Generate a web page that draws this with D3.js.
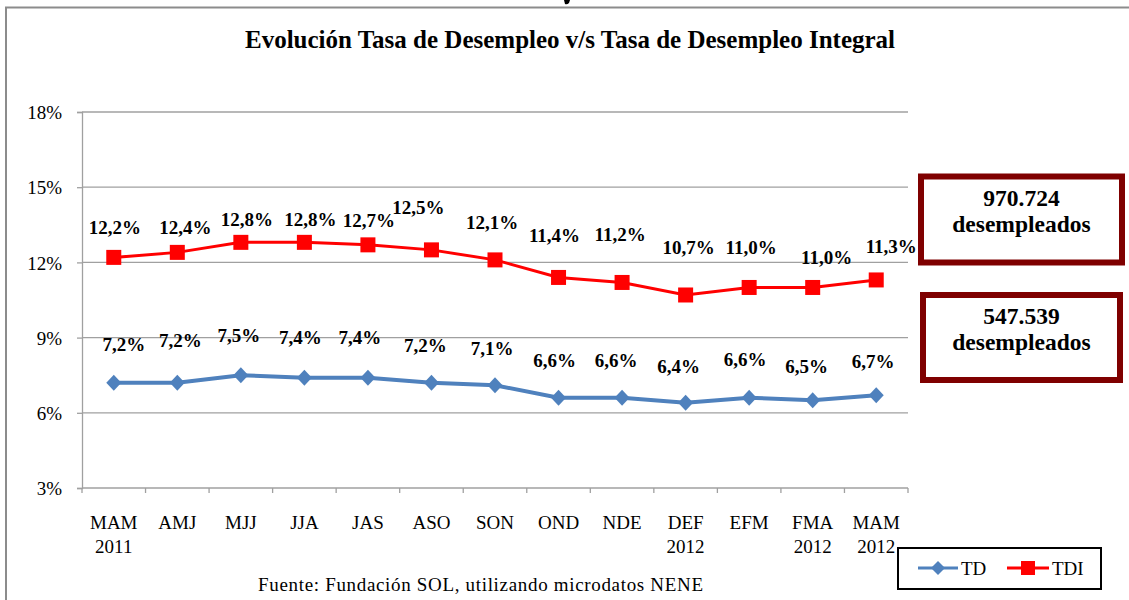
<!DOCTYPE html>
<html>
<head>
<meta charset="utf-8">
<script src="https://cdn.jsdelivr.net/npm/d3@7"></script>
<style>
  html, body { margin: 0; padding: 0; background: #fff; }
  svg text { font-family: 'Liberation Serif', 'Times New Roman', serif; fill: #000; }
</style>
</head>
<body>
<div id="chart"></div>
<script>
// periods (trimestres móviles) and their second line
const periods = ['MAM', 'AMJ', 'MJJ', 'JJA', 'JAS', 'ASO', 'SON', 'OND', 'NDE', 'DEF', 'EFM', 'FMA', 'MAM ']
const periodYears = ['2011', '', '', '', '', '', '', '', '', '2012', '', '2012', '2012']

// tasa de desempleo (TD) and tasa de desempleo integral (TDI), %
const td = [7.2, 7.2, 7.5, 7.4, 7.4, 7.2, 7.1, 6.6, 6.6, 6.4, 6.6, 6.5, 6.7]
const tdi = [12.2, 12.4, 12.8, 12.8, 12.7, 12.5, 12.1, 11.4, 11.2, 10.7, 11.0, 11.0, 11.3]

const yTicks = [3, 6, 9, 12, 15, 18]

// totals shown in the boxes on the right
const totals = [{ value: '970.724', text: 'desempleados' }, { value: '547.539', text: 'desempleados' }]

// label placement nudges (Excel put them by hand)
const tdiLabelDx = [1, 8, 6, 6, 1, -13, -3, -4, -2, 3, 2, 14, 15]
const tdiLabelDy = [-30, -25, -23, -23, -25, -43, -38, -42, -48, -48, -40, -30, -34]
const tdLabelDx = [10, 3, -2, -4, -8, -6, -3, -4, -6, -7, -4, -6, -3]
const tdLabelDy = [-38, -42, -40, -40, -40, -37, -37, -37, -37, -36, -38, -34, -34]

const W = 1129, H = 600
const svg = d3.select('#chart').append('svg').attr('width', W).attr('height', H)
  .style('display', 'block')

// outer frame (only top and left edges visible)
svg.append('path').attr('d', 'M6,600 V7.5 H1129')
  .attr('fill', 'none').attr('stroke', '#8c8c8c').attr('stroke-width', 2)

// bit of a glyph from the text cut off above the frame
svg.append('path').attr('d', 'M564,0 h6 l-1,3 q-2,2 -4,1 z').attr('fill', '#000')

svg.append('text').attr('x', 570).attr('y', 48).attr('text-anchor', 'middle')
  .style('font-size', '25px').style('font-weight', 'bold')
  .text('Evolución Tasa de Desempleo v/s Tasa de Desempleo Integral')

const x = d3.scaleBand().domain(periods).range([82, 908])
const y = d3.scaleLinear().domain([3, 18]).range([488, 112])
const cx = i => x(periods[i]) + x.bandwidth() / 2

// gridlines
svg.append('g').selectAll('line').data(yTicks.slice(1)).join('line')
  .attr('x1', 82).attr('x2', 908)
  .attr('y1', d => y(d)).attr('y2', d => y(d))
  .attr('stroke', '#a0a0a0').attr('stroke-width', 1.3)

// y axis
const yAxis = svg.append('g').attr('transform', 'translate(82,0)')
  .call(d3.axisLeft(y).tickValues(yTicks).tickSize(5).tickPadding(15).tickFormat(d => d + '%'))
yAxis.select('.domain').attr('stroke', '#a0a0a0').attr('stroke-width', 1.3)
yAxis.selectAll('.tick line').attr('stroke', '#a0a0a0').attr('stroke-width', 1.3)
yAxis.selectAll('.tick text').style('font-size', '19px').attr('dy', '0.35em')

// x axis: ticks at band edges
const xAxisG = svg.append('g')
xAxisG.append('line').attr('x1', 82).attr('x2', 908).attr('y1', 488).attr('y2', 488)
  .attr('stroke', '#a0a0a0').attr('stroke-width', 1.3)
xAxisG.selectAll('line.t').data(d3.range(periods.length + 1)).join('line').attr('class', 't')
  .attr('x1', i => 82 + i * x.bandwidth()).attr('x2', i => 82 + i * x.bandwidth())
  .attr('y1', 488).attr('y2', 493)
  .attr('stroke', '#a0a0a0').attr('stroke-width', 1.3)
xAxisG.selectAll('text.p').data(periods).join('text').attr('class', 'p')
  .attr('x', (d, i) => cx(i)).attr('y', 529).attr('text-anchor', 'middle')
  .style('font-size', '19px').text(d => d.trim())
xAxisG.selectAll('text.yr').data(periodYears).join('text').attr('class', 'yr')
  .attr('x', (d, i) => cx(i)).attr('y', 553).attr('text-anchor', 'middle')
  .style('font-size', '19px').text(d => d)

const line = d3.line().x((d, i) => cx(i)).y(d => y(d))

// TDI series
svg.append('path').datum(tdi).attr('d', line)
  .attr('fill', 'none').attr('stroke', '#ff0000').attr('stroke-width', 3)
svg.append('g').selectAll('rect').data(tdi).join('rect')
  .attr('x', (d, i) => cx(i) - 7.5).attr('y', d => y(d) - 7.5)
  .attr('width', 15).attr('height', 15).attr('fill', '#ff0000')

// TD series
svg.append('path').datum(td).attr('d', line)
  .attr('fill', 'none').attr('stroke', '#4f81bd').attr('stroke-width', 4)
svg.append('g').selectAll('path').data(td).join('path')
  .attr('d', (d, i) => `M${cx(i)},${y(d) - 8}l7.5,8l-7.5,8l-7.5,-8z`)
  .attr('fill', '#4f81bd')

const fmt = v => d3.format('.1f')(v).replace('.', ',') + '%'

svg.append('g').selectAll('text').data(tdi).join('text')
  .attr('x', (d, i) => cx(i) + tdiLabelDx[i]).attr('y', (d, i) => y(d) + tdiLabelDy[i])
  .attr('dy', '0.35em').attr('text-anchor', 'middle')
  .style('font-size', '19px').style('font-weight', 'bold').text(fmt)

svg.append('g').selectAll('text').data(td).join('text')
  .attr('x', (d, i) => cx(i) + tdLabelDx[i]).attr('y', (d, i) => y(d) + tdLabelDy[i])
  .attr('dy', '0.35em').attr('text-anchor', 'middle')
  .style('font-size', '19px').style('font-weight', 'bold').text(fmt)

// boxes with the number of unemployed
const boxes = [{ x: 921, y: 176.5, w: 201, h: 86 }, { x: 923, y: 295, w: 197, h: 85 }]
const bg = svg.append('g').selectAll('g').data(totals).join('g')
bg.append('rect')
  .attr('x', (d, i) => boxes[i].x).attr('y', (d, i) => boxes[i].y)
  .attr('width', (d, i) => boxes[i].w).attr('height', (d, i) => boxes[i].h)
  .attr('fill', '#fff').attr('stroke', '#7f0000').attr('stroke-width', 6)
bg.append('text').attr('x', (d, i) => boxes[i].x + boxes[i].w / 2).attr('y', (d, i) => boxes[i].y + 29)
  .attr('text-anchor', 'middle').style('font-size', '23.5px').style('font-weight', 'bold').text(d => d.value)
bg.append('text').attr('x', (d, i) => boxes[i].x + boxes[i].w / 2).attr('y', (d, i) => boxes[i].y + 55)
  .attr('text-anchor', 'middle').style('font-size', '23.5px').style('font-weight', 'bold').text(d => d.text)

// legend
const lg = svg.append('g')
lg.append('rect').attr('x', 898).attr('y', 548).attr('width', 203).attr('height', 41)
  .attr('fill', '#fff').attr('stroke', '#000').attr('stroke-width', 2)
lg.append('line').attr('x1', 918).attr('x2', 958).attr('y1', 568).attr('y2', 568)
  .attr('stroke', '#4f81bd').attr('stroke-width', 3)
lg.append('path').attr('d', 'M938,561l7,7l-7,7l-7,-7z').attr('fill', '#4f81bd')
lg.append('text').attr('x', 961).attr('y', 575).style('font-size', '19px').text('TD')
lg.append('line').attr('x1', 1007).attr('x2', 1049).attr('y1', 568).attr('y2', 568)
  .attr('stroke', '#ff0000').attr('stroke-width', 3)
lg.append('rect').attr('x', 1021).attr('y', 561).attr('width', 14).attr('height', 14).attr('fill', '#ff0000')
lg.append('text').attr('x', 1052).attr('y', 575).style('font-size', '19px').text('TDI')

svg.append('text').attr('x', 258).attr('y', 591)
  .attr('textLength', 445).attr('lengthAdjust', 'spacing')
  .style('font-size', '19px').text('Fuente: Fundación SOL, utilizando microdatos NENE')
</script>
</body>
</html>
